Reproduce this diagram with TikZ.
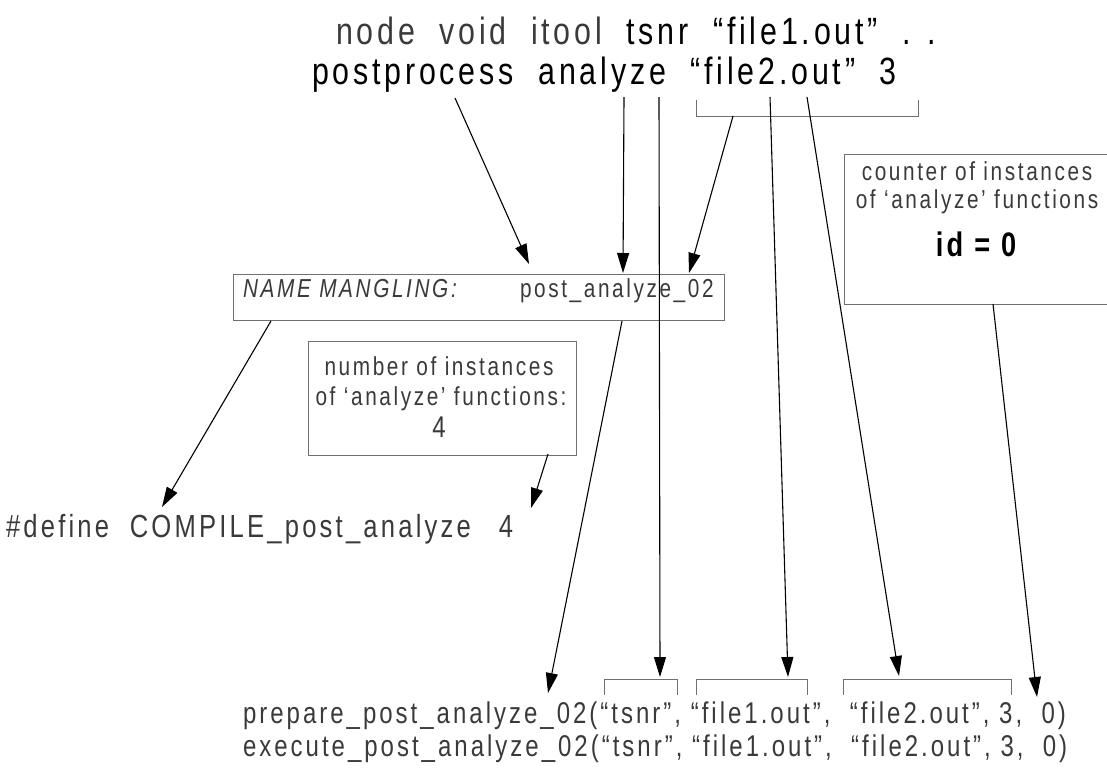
\documentclass[tikz,border=0pt]{standalone}
\usepackage{fontspec}
\setmainfont[FakeStretch=0.8,LetterSpace=10]{Liberation Sans}
\usetikzlibrary{arrows.meta}
\definecolor{txtgray}{HTML}{3A3A3A}
\definecolor{boxgray}{HTML}{707070}
\begin{document}
\begin{tikzpicture}[x=1pt, y=-1pt, every node/.style={inner sep=0pt, outer sep=0pt, text=txtgray},
  arr/.style={-{Triangle[length=20pt,width=12pt]}, line width=1.1pt},
  brk/.style={line width=0.7pt, draw=boxgray},
  box/.style={draw=boxgray, line width=0.8pt, anchor=north west}]
\useasboundingbox (0,0) rectangle (1107,771);

% call at the top
\node[anchor=base west, font=\fontsize{38}{46}\selectfont] (call1) at (336,44) {node \ void \ itool \ \textcolor{black}{tsnr \ “file1.out” \ . .}};
\node[anchor=base west, font=\fontsize{38}{46}\selectfont, text=black] (call2) at (312,84) {postprocess \ analyze \ “file2.out” \ 3};
\draw[brk] (696,100) -- (696,116) -- (918,116) -- (918,100);

% boxes
\node[box, minimum width=491, minimum height=46] (mangle) at (233,274) {};
\node[box, minimum width=268, minimum height=114] (ninst) at (308,341) {};
\node[box, minimum width=270, minimum height=150] (counter) at (844,154) {};

\node[anchor=base west, font=\fontsize{26}{30}\selectfont\itshape] (mname) at (243,297) {NAME MANGLING:};
\node[anchor=base west, font=\fontsize{26}{30}\selectfont] (mval) at (520,297) {post\_analyze\_02};

\node[anchor=base, font=\fontsize{26}{30}\selectfont] (n1) at (439,375) {number of instances};
\node[anchor=base, font=\fontsize{26}{30}\selectfont] (n2) at (441,405) {of ‘analyze’ functions:};
\node[anchor=base, font=\fontsize{30}{34}\selectfont] (n3) at (439,437) {4};

\node[anchor=base, font=\fontsize{26}{30}\selectfont] (c1) at (977,180) {counter of instances};
\node[anchor=base, font=\fontsize{26}{30}\selectfont] (c2) at (977,208) {of ‘analyze’ functions};
\node[anchor=base, font=\fontsize{34}{40}\selectfont\bfseries, text=black] (c3) at (976,256) {id = 0};

% generated code
\node[anchor=base west, font=\fontsize{32}{38}\selectfont] (define) at (6,537) {\#define \ COMPILE\_post\_analyze\hspace{28pt}4};
\node[anchor=base west, font=\fontsize{30}{36}\selectfont] (prep) at (243,723) {prepare\_post\_analyze\_02(“tsnr”, “file1.out”, \ “file2.out”, 3, \ 0)};
\node[anchor=base west, font=\fontsize{30}{36}\selectfont] (exec) at (243,756) {execute\_post\_analyze\_02(“tsnr”, “file1.out”, \ “file2.out”, 3, \ 0)};
\draw[brk] (604,695) -- (604,679) -- (677,679) -- (677,695);
\draw[brk] (696,695) -- (696,679) -- (807,679) -- (807,695);
\draw[brk] (843,695) -- (843,679) -- (1011,679) -- (1011,695);

% arrow ends
\coordinate (pp) at (455,98);   \coordinate (ppm) at (529,264);
\coordinate (an) at (624,97);   \coordinate (anm) at (623,273);
\coordinate (ts) at (659,97);   \coordinate (tsb) at (660,677);
\coordinate (fb) at (733,116);  \coordinate (fbm) at (689,273);
\coordinate (f1) at (770,97);   \coordinate (f1b) at (788,677);
\coordinate (f2) at (807,97);   \coordinate (f2b) at (899,676);
\coordinate (ct) at (993,304);  \coordinate (ctb) at (1037,697);
\coordinate (mn) at (271,321);  \coordinate (mnd) at (162,507);
\coordinate (ni) at (548,454);  \coordinate (nid) at (531,508);
\coordinate (mv) at (622,321);  \coordinate (mvb) at (548,693);

\draw[arr] (pp) -- (ppm);
\draw[arr] (an) -- (anm);
\draw[arr] (ts) -- (tsb);
\draw[arr] (fb) -- (fbm);
\draw[arr] (f1) -- (f1b);
\draw[arr] (f2) -- (f2b);
\draw[arr] (ct) -- (ctb);
\draw[arr] (mn) -- (mnd);
\draw[arr] (ni) -- (nid);
\draw[arr] (mv) -- (mvb);

\end{tikzpicture}
\end{document}
